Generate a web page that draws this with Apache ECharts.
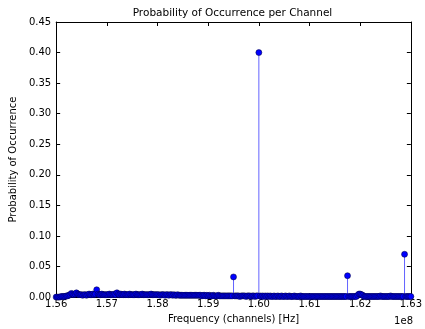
<!DOCTYPE html>
<html>
<head>
<meta charset="utf-8">
<script src="https://cdn.jsdelivr.net/npm/echarts@6/dist/echarts.min.js"></script>
<style>
  html, body { margin: 0; padding: 0; background: #fff; }
  #chart { width: 425px; height: 329px; }
</style>
</head>
<body>
<div id="chart"></div>
<script>
// Channel plan: 25 kHz channels from 156.000 MHz to 163.000 MHz
const startHz = 156.0e6;
const channelWidthHz = 25e3;

// Probability of occurrence for each channel (20 channels = 0.5 MHz per row)
const probability = [
  0.000,0.000,0.000,0.000,0.001,0.001,0.001,0.001,0.002,0.002,0.003,0.004,0.006,0.005,0.004,0.005,0.007,0.005,0.004,0.004,
  0.004,0.003,0.004,0.004,0.003,0.004,0.005,0.004,0.004,0.005,0.004,0.005,0.012,0.005,0.004,0.004,0.005,0.004,0.004,0.004,
  0.004,0.004,0.005,0.004,0.004,0.004,0.005,0.004,0.007,0.005,0.004,0.005,0.004,0.004,0.005,0.004,0.004,0.004,0.005,0.004,
  0.004,0.004,0.004,0.005,0.004,0.004,0.004,0.004,0.005,0.004,0.004,0.004,0.004,0.004,0.004,0.005,0.004,0.004,0.004,0.004,
  0.004,0.004,0.003,0.004,0.004,0.004,0.003,0.004,0.004,0.003,0.004,0.004,0.003,0.004,0.003,0.003,0.004,0.003,0.003,0.003,
  0.003,0.003,0.003,0.003,0.003,0.003,0.003,0.003,0.003,0.003,0.003,0.003,0.003,0.003,0.003,0.002,0.003,0.003,0.002,0.003,
  0.002,0.003,0.002,0.002,0.003,0.002,0.002,0.002,0.003,0.002,0.002,0.002,0.002,0.002,0.002,0.002,0.002,0.002,0.002,0.002,
  0.033,0.002,0.002,0.002,0.002,0.001,0.002,0.002,0.002,0.002,0.001,0.002,0.002,0.002,0.001,0.002,0.002,0.001,0.002,0.002,
  0.400,0.002,0.001,0.002,0.001,0.002,0.001,0.002,0.001,0.002,0.001,0.001,0.002,0.001,0.001,0.002,0.001,0.001,0.002,0.001,
  0.001,0.002,0.001,0.001,0.002,0.001,0.001,0.001,0.002,0.001,0.001,0.001,0.001,0.002,0.001,0.001,0.001,0.001,0.001,0.001,
  0.001,0.001,0.001,0.001,0.001,0.001,0.001,0.001,0.001,0.001,0.001,0.001,0.001,0.001,0.001,0.001,0.001,0.001,0.001,0.001,
  0.001,0.001,0.001,0.001,0.001,0.001,0.001,0.001,0.001,0.001,0.035,0.001,0.001,0.001,0.001,0.001,0.001,0.001,0.003,0.005,
  0.005,0.004,0.003,0.001,0.001,0.001,0.001,0.001,0.001,0.001,0.001,0.001,0.001,0.001,0.001,0.001,0.002,0.001,0.001,0.001,
  0.001,0.001,0.001,0.001,0.002,0.001,0.001,0.001,0.001,0.001,0.001,0.001,0.001,0.001,0.001,0.070,0.001,0.001,0.001,0.001,
  0.001
];

// Axis tick settings
const xMinHz = 156e6, xMaxHz = 163e6, xStepHz = 1e6;
const yMin = 0, yMax = 0.45, yStep = 0.05;

const points = probability.map((p, i) => [startHz + i * channelWidthHz, p]);

const font = 'DejaVu Sans';
const tickStyle = { inside: true, length: 4, lineStyle: { color: '#000', width: 1 } };
const frameLine = { show: true, onZero: false, lineStyle: { color: '#000', width: 1 } };

const chart = echarts.init(document.getElementById('chart'), null, { renderer: 'canvas' });
chart.setOption({
  animation: false,
  backgroundColor: '#fff',
  grid: { left: 52, right: 12, top: 22, bottom: 25 },
  xAxis: [{
    type: 'value', min: xMinHz, max: xMaxHz, interval: xStepHz,
    name: 'Frequency (channels) [Hz]', nameLocation: 'middle', nameGap: 14,
    nameTextStyle: { fontFamily: font, fontSize: 10, color: '#000' },
    axisLine: frameLine, axisTick: tickStyle, splitLine: { show: false },
    axisLabel: { fontFamily: font, fontSize: 10, color: '#000', margin: 2,
      formatter: v => (v / 1e8).toFixed(2) }
  }, {
    type: 'value', position: 'top', min: xMinHz, max: xMaxHz, interval: xStepHz,
    axisLine: frameLine, axisTick: tickStyle, splitLine: { show: false },
    axisLabel: { show: false }
  }],
  yAxis: [{
    type: 'value', min: yMin, max: yMax, interval: yStep,
    name: 'Probability of Occurrence', nameLocation: 'middle', nameGap: 30,
    nameTextStyle: { fontFamily: font, fontSize: 10, color: '#000' },
    axisLine: frameLine, axisTick: tickStyle, splitLine: { show: false },
    axisLabel: { fontFamily: font, fontSize: 10, color: '#000', margin: 5,
      formatter: v => v.toFixed(2) }
  }, {
    type: 'value', position: 'right', min: yMin, max: yMax, interval: yStep,
    axisLine: frameLine, axisTick: tickStyle, splitLine: { show: false },
    axisLabel: { show: false }
  }],
  graphic: [{
    type: 'text', x: 232.5, y: 8,
    style: { text: 'Probability of Occurrence per Channel', font: '10.5px "DejaVu Sans"',
      fill: '#000', align: 'center', textAlign: 'center' }
  }, {
    type: 'text', x: 413, y: 316,
    style: { text: '1e8', font: '10px "DejaVu Sans"', fill: '#000', align: 'right', textAlign: 'right' }
  }],
  series: [{
    // stems
    type: 'bar', data: points, barWidth: 1, xAxisIndex: 0, yAxisIndex: 0,
    itemStyle: { color: '#6363ff' }, z: 2
  }, {
    // stem heads
    type: 'scatter', data: points, symbol: 'circle', symbolSize: 6,
    itemStyle: { color: '#0000ff', borderColor: '#000033', borderWidth: 0.5, opacity: 1 },
    z: 3
  }]
});
</script>
</body>
</html>
